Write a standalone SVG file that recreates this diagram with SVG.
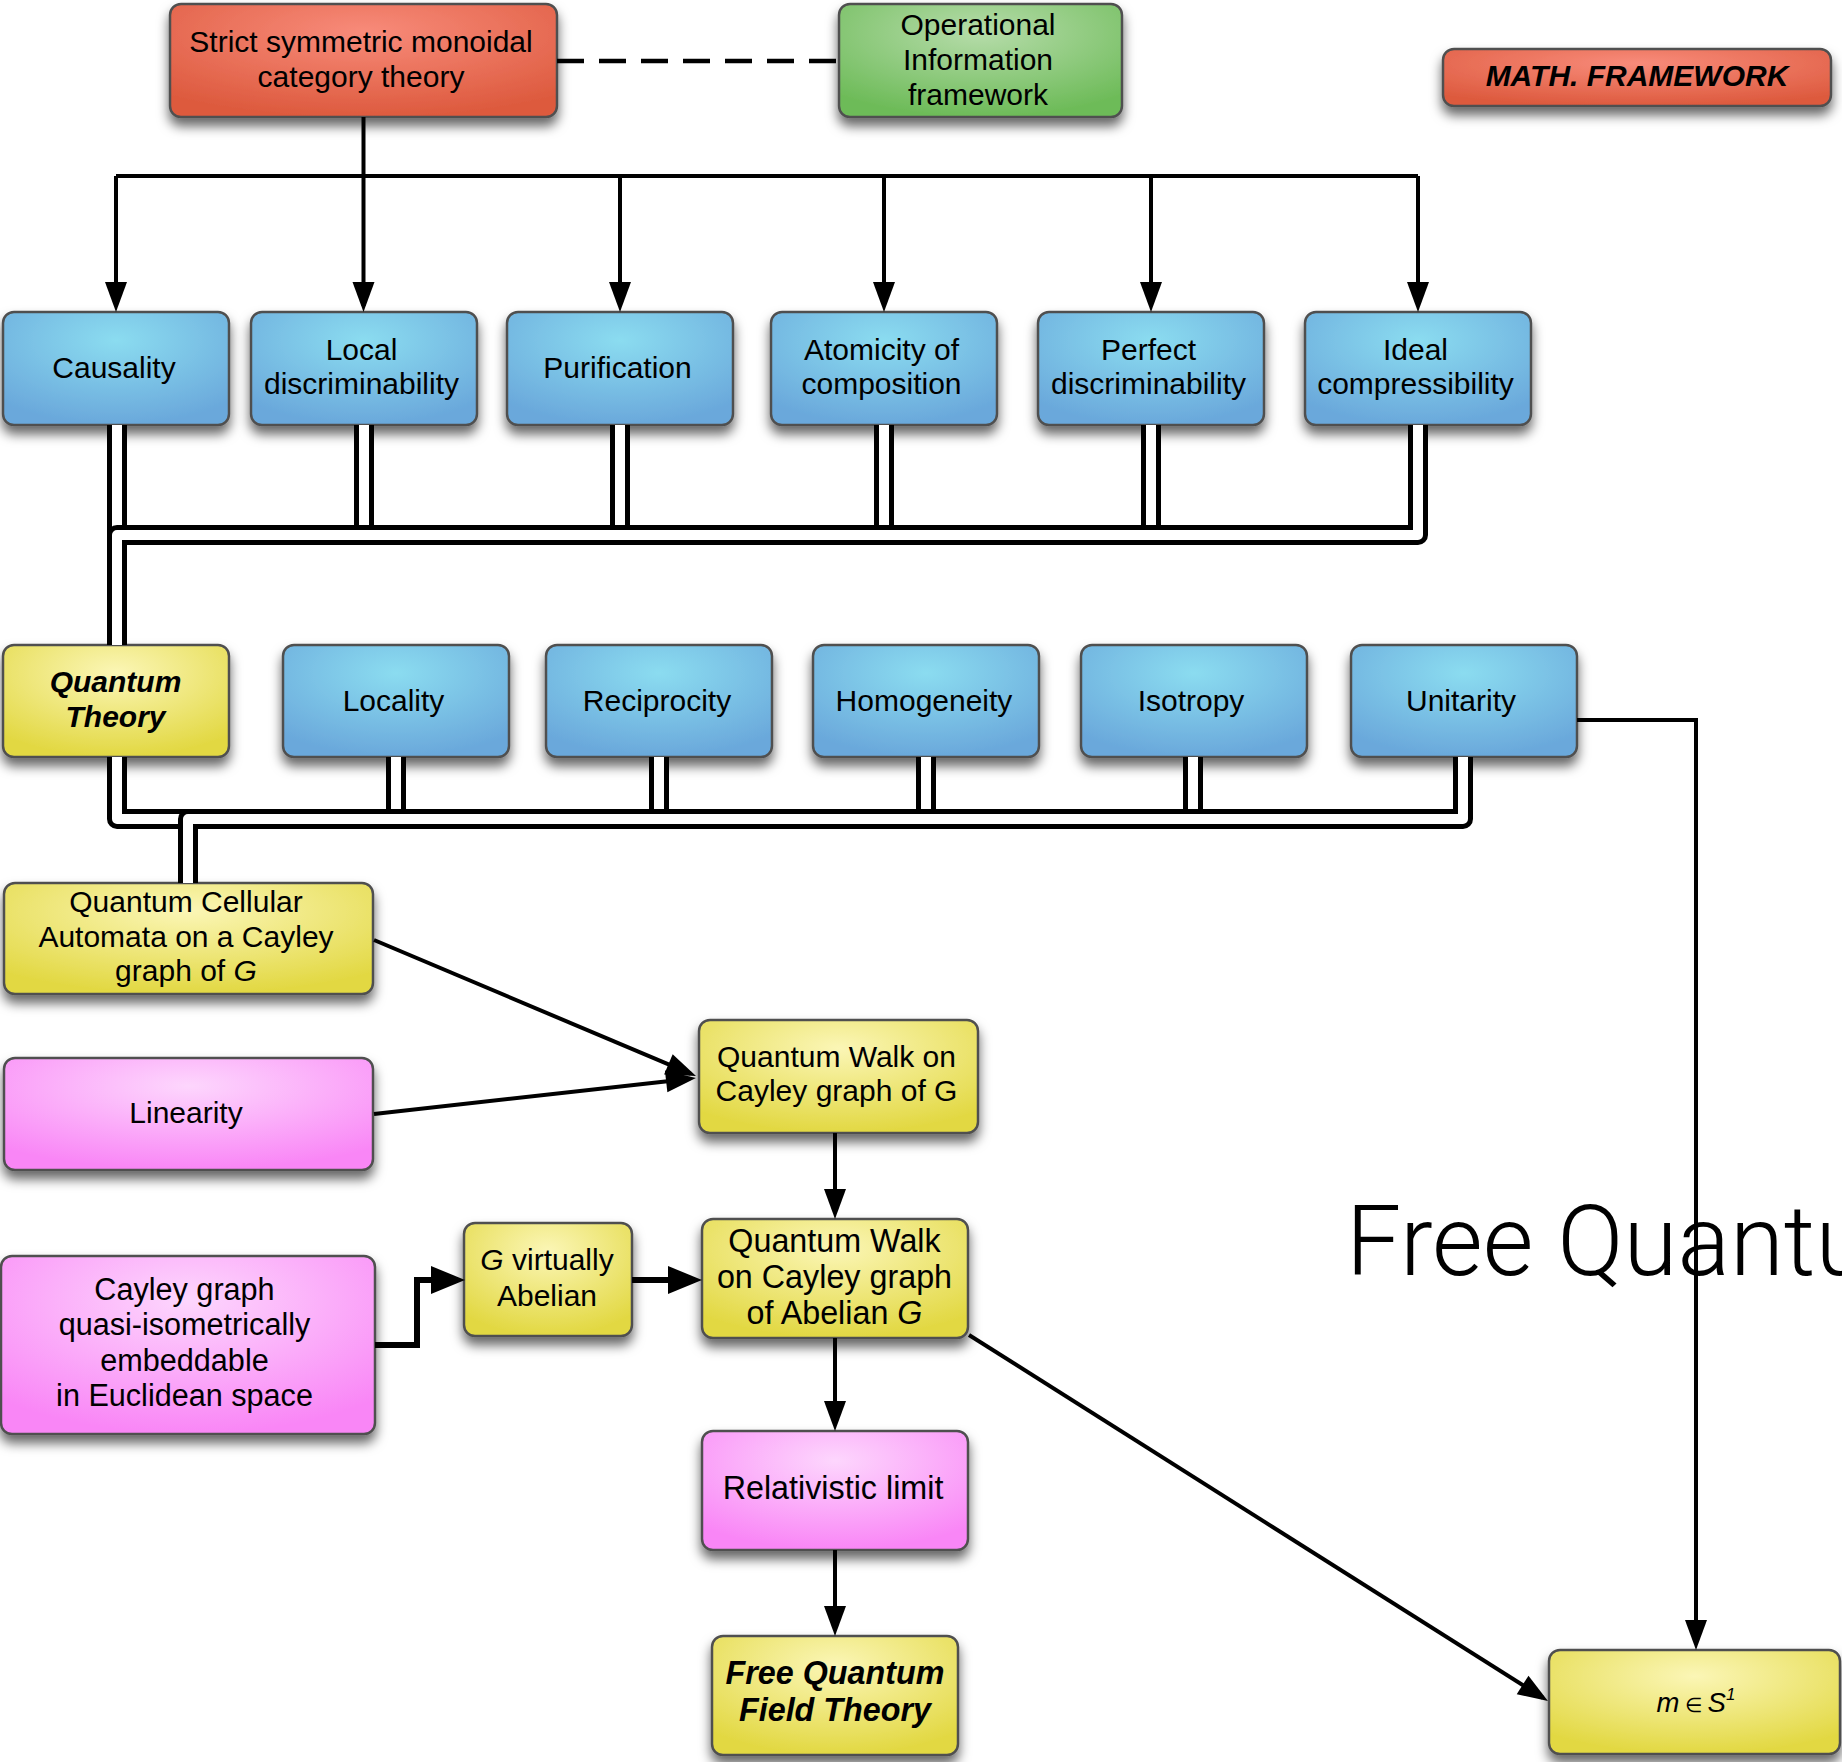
<svg xmlns="http://www.w3.org/2000/svg" width="1842" height="1762" viewBox="0 0 1842 1762">
<style>
.box{stroke:#505050;stroke-width:2.5}
.t{font-family:"Liberation Sans",Arial,sans-serif;font-size:30px;fill:#000;text-anchor:middle}
.t2{font-size:32.3px}
.t3{font-size:30.6px}
.bi{font-weight:bold;font-style:italic}
.it{font-style:italic}
.po{fill:none;stroke:#000;stroke-width:20;stroke-linejoin:round}
.pi{fill:none;stroke:#fff;stroke-width:10;stroke-linejoin:round}
.ln{fill:none;stroke:#000;stroke-width:4}
.lnb{fill:none;stroke:#000;stroke-width:6}
.big{font-family:"Roboto","Liberation Sans",sans-serif;font-weight:300;font-size:98px;fill:#000}
</style>
<defs>
<filter id="sh" x="-20%" y="-30%" width="140%" height="180%">
<feDropShadow dx="0" dy="8" stdDeviation="6" flood-color="#000" flood-opacity="0.6"/>
</filter>
<radialGradient id="gBlue" cx="0.5" cy="0.25" r="0.75"><stop offset="0" stop-color="#8bdcf0"/><stop offset="1" stop-color="#6aa8db"/></radialGradient>
<radialGradient id="gYel" cx="0.5" cy="0.25" r="0.75"><stop offset="0" stop-color="#fbf6b6"/><stop offset="1" stop-color="#e2d842"/></radialGradient>
<radialGradient id="gPink" cx="0.5" cy="0.25" r="0.75"><stop offset="0" stop-color="#fdd6fd"/><stop offset="1" stop-color="#f986f6"/></radialGradient>
<radialGradient id="gRed" cx="0.5" cy="0.25" r="0.75"><stop offset="0" stop-color="#f88b7a"/><stop offset="1" stop-color="#dd5a3e"/></radialGradient>
<radialGradient id="gGreen" cx="0.5" cy="0.25" r="0.75"><stop offset="0" stop-color="#b6dcaa"/><stop offset="1" stop-color="#6dbb58"/></radialGradient>
<marker id="arr" markerUnits="userSpaceOnUse" markerWidth="40" markerHeight="40" refX="24" refY="11" orient="auto" overflow="visible"><path d="M0,0 L30,11 L0,22 z" fill="#000"/></marker>
<marker id="arrL" markerUnits="userSpaceOnUse" markerWidth="40" markerHeight="40" refX="27" refY="14" orient="auto" overflow="visible"><path d="M0,0 L34,14 L0,28 z" fill="#000"/></marker>
</defs>
<rect width="1842" height="1762" fill="#fff"/>

<g id="offscreen-nodes">
<rect x="1432" y="-65" width="276" height="64" rx="10" fill="#ccc" filter="url(#sh)"/>
<rect x="1752" y="-65" width="200" height="64" rx="10" fill="#ccc" filter="url(#sh)"/>
</g>

<text class="big" x="1346" y="1275">Free Quantu</text>

<g id="n-strict"><rect class="box" x="170" y="4" width="387" height="113" rx="11" fill="url(#gRed)" filter="url(#sh)"/><text class="t" x="361" y="52">Strict symmetric monoidal</text><text class="t" x="361" y="87">category theory</text></g>
<g id="n-operational"><rect class="box" x="839" y="4" width="283" height="113" rx="11" fill="url(#gGreen)" filter="url(#sh)"/><text class="t" x="978" y="35">Operational</text><text class="t" x="978" y="70">Information</text><text class="t" x="978" y="104.5">framework</text></g>
<g id="n-math"><rect class="box" x="1443" y="49" width="388" height="57" rx="11" fill="url(#gRed)" filter="url(#sh)"/><text class="t bi" x="1637" y="86">MATH. FRAMEWORK</text></g>

<g id="n-causality"><rect class="box" x="3" y="312" width="226" height="113" rx="11" fill="url(#gBlue)" filter="url(#sh)"/><text class="t" x="114" y="378">Causality</text></g>
<g id="n-localdisc"><rect class="box" x="251" y="312" width="226" height="113" rx="11" fill="url(#gBlue)" filter="url(#sh)"/><text class="t" x="361.5" y="360">Local</text><text class="t" x="361.5" y="394">discriminability</text></g>
<g id="n-purification"><rect class="box" x="507" y="312" width="226" height="113" rx="11" fill="url(#gBlue)" filter="url(#sh)"/><text class="t" x="617.5" y="378">Purification</text></g>
<g id="n-atomicity"><rect class="box" x="771" y="312" width="226" height="113" rx="11" fill="url(#gBlue)" filter="url(#sh)"/><text class="t" x="881.5" y="360">Atomicity of</text><text class="t" x="881.5" y="394">composition</text></g>
<g id="n-perfect"><rect class="box" x="1038" y="312" width="226" height="113" rx="11" fill="url(#gBlue)" filter="url(#sh)"/><text class="t" x="1148.5" y="360">Perfect</text><text class="t" x="1148.5" y="394">discriminability</text></g>
<g id="n-ideal"><rect class="box" x="1305" y="312" width="226" height="113" rx="11" fill="url(#gBlue)" filter="url(#sh)"/><text class="t" x="1415.5" y="360">Ideal</text><text class="t" x="1415.5" y="394">compressibility</text></g>

<g id="n-qt"><rect class="box" x="3" y="645" width="226" height="112" rx="11" fill="url(#gYel)" filter="url(#sh)"/><text class="t bi" x="115.5" y="692">Quantum</text><text class="t bi" x="115.5" y="727">Theory</text></g>
<g id="n-locality"><rect class="box" x="283" y="645" width="226" height="112" rx="11" fill="url(#gBlue)" filter="url(#sh)"/><text class="t" x="393.5" y="711">Locality</text></g>
<g id="n-reciprocity"><rect class="box" x="546" y="645" width="226" height="112" rx="11" fill="url(#gBlue)" filter="url(#sh)"/><text class="t" x="657" y="711">Reciprocity</text></g>
<g id="n-homogeneity"><rect class="box" x="813" y="645" width="226" height="112" rx="11" fill="url(#gBlue)" filter="url(#sh)"/><text class="t" x="924" y="711">Homogeneity</text></g>
<g id="n-isotropy"><rect class="box" x="1081" y="645" width="226" height="112" rx="11" fill="url(#gBlue)" filter="url(#sh)"/><text class="t" x="1191" y="711">Isotropy</text></g>
<g id="n-unitarity"><rect class="box" x="1351" y="645" width="226" height="112" rx="11" fill="url(#gBlue)" filter="url(#sh)"/><text class="t" x="1461" y="711">Unitarity</text></g>

<g id="n-qca"><rect class="box" x="4" y="883" width="369" height="111" rx="11" fill="url(#gYel)" filter="url(#sh)"/><text class="t" x="186" y="912">Quantum Cellular</text><text class="t" x="186" y="946.5">Automata on a Cayley</text><text class="t" x="186" y="981">graph of <tspan class="it">G</tspan></text></g>
<g id="n-linearity"><rect class="box" x="4" y="1058" width="369" height="112" rx="11" fill="url(#gPink)" filter="url(#sh)"/><text class="t" x="186" y="1123">Linearity</text></g>
<g id="n-qw"><rect class="box" x="699" y="1020" width="279" height="113" rx="11" fill="url(#gYel)" filter="url(#sh)"/><text class="t" x="836.5" y="1067">Quantum Walk on</text><text class="t" x="836.5" y="1101">Cayley graph of G</text></g>
<g id="n-cayley"><rect class="box" x="1" y="1256" width="374" height="178" rx="11" fill="url(#gPink)" filter="url(#sh)"/><text class="t t3" x="184.5" y="1300">Cayley graph</text><text class="t t3" x="184.5" y="1335">quasi-isometrically</text><text class="t t3" x="184.5" y="1370.5">embeddable</text><text class="t t3" x="184.5" y="1406">in Euclidean space</text></g>
<g id="n-gvirt"><rect class="box" x="464" y="1223" width="168" height="113" rx="11" fill="url(#gYel)" filter="url(#sh)"/><text class="t" x="547" y="1270"><tspan class="it">G</tspan> virtually</text><text class="t" x="547" y="1306">Abelian</text></g>
<g id="n-qwa"><rect class="box" x="702" y="1219" width="266" height="119" rx="11" fill="url(#gYel)" filter="url(#sh)"/><text class="t t2" x="834.5" y="1252">Quantum Walk</text><text class="t t2" x="834.5" y="1288">on Cayley graph</text><text class="t t2" x="834.5" y="1324">of Abelian <tspan class="it">G</tspan></text></g>
<g id="n-rel"><rect class="box" x="702" y="1431" width="266" height="119" rx="11" fill="url(#gPink)" filter="url(#sh)"/><text class="t t2" x="833" y="1498.5">Relativistic limit</text></g>
<g id="n-fqft"><rect class="box" x="712" y="1636" width="246" height="119" rx="11" fill="url(#gYel)" filter="url(#sh)"/><text class="t t2 bi" x="835" y="1684">Free Quantum</text><text class="t t2 bi" x="835" y="1721">Field Theory</text></g>
<g id="n-mass"><rect class="box" x="1549" y="1650" width="291" height="104" rx="11" fill="url(#gYel)" filter="url(#sh)"/><text class="t" x="1696" y="1712" style="font-size:27.5px"><tspan class="it">m</tspan><tspan style="font-size:20px"> ∈ </tspan><tspan class="it">S</tspan><tspan class="it" style="font-size:17px" dy="-12">1</tspan></text></g>

<g id="connectors">
<path d="M557,61 H839" fill="none" stroke="#000" stroke-width="4.5" stroke-dasharray="27 15"/>
<path class="ln" d="M363.5,117 V176"/>
<path class="ln" d="M116,176 H1418"/>
<path class="ln" d="M116,176 V306" marker-end="url(#arr)"/>
<path class="ln" d="M363.5,176 V306" marker-end="url(#arr)"/>
<path class="ln" d="M620,176 V306" marker-end="url(#arr)"/>
<path class="ln" d="M884,176 V306" marker-end="url(#arr)"/>
<path class="ln" d="M1151,176 V306" marker-end="url(#arr)"/>
<path class="ln" d="M1418,176 V306" marker-end="url(#arr)"/>

<path class="po" d="M117,425 V645"/><path class="pi" d="M117,425 V645"/>
<path class="po" d="M364,425 V535"/><path class="pi" d="M364,425 V535"/>
<path class="po" d="M620,425 V535"/><path class="pi" d="M620,425 V535"/>
<path class="po" d="M884,425 V535"/><path class="pi" d="M884,425 V535"/>
<path class="po" d="M1151,425 V535"/><path class="pi" d="M1151,425 V535"/>
<path class="po" d="M1418,425 V535 H117 V645"/><path class="pi" d="M1418,425 V535 H117 V645"/>

<path class="po" d="M117,757 V819 H188 V883"/><path class="pi" d="M117,757 V819 H188 V883"/>
<path class="po" d="M396,757 V819"/><path class="pi" d="M396,757 V819"/>
<path class="po" d="M659,757 V819"/><path class="pi" d="M659,757 V819"/>
<path class="po" d="M926,757 V819"/><path class="pi" d="M926,757 V819"/>
<path class="po" d="M1193,757 V819"/><path class="pi" d="M1193,757 V819"/>
<path class="po" d="M1463,757 V819 H188 V883"/><path class="pi" d="M1463,757 V819 H188 V883"/>

<path class="ln" d="M374,940 L690.5,1073.7" marker-end="url(#arr)"/>
<path class="ln" d="M374,1114 L690,1078.7" marker-end="url(#arr)"/>
<path class="ln" d="M835,1133 V1213" marker-end="url(#arr)"/>
<path class="lnb" d="M375,1345 H417 V1280 H458" marker-end="url(#arrL)"/>
<path class="lnb" d="M632,1280 H695" marker-end="url(#arrL)"/>
<path class="ln" d="M835,1338 V1425" marker-end="url(#arr)"/>
<path class="ln" d="M835,1550 V1630" marker-end="url(#arr)"/>
<path class="ln" d="M969,1335 L1542.9,1697.8" marker-end="url(#arr)"/>
<path class="ln" d="M1577,720 H1696 V1644" marker-end="url(#arr)"/>
</g>
</svg>
